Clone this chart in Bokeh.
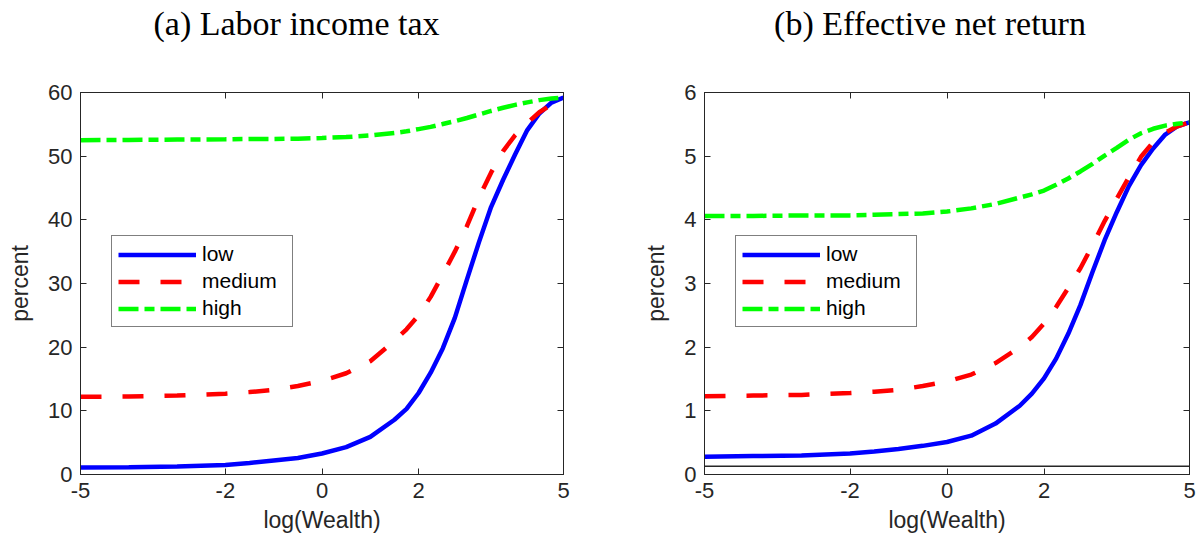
from bokeh.plotting import figure
from bokeh.layouts import row
from bokeh.models import (Range1d, FixedTicker, LinearAxis, Legend, LegendItem,
                          Span)
from bokeh.embed import file_html
from bokeh.resources import INLINE

# log of wealth on the horizontal axis
log_wealth = [-5, -4, -3, -2, -1.5, -1, -0.5, 0, 0.5, 1, 1.5, 1.75, 2, 2.25,
              2.5, 2.75, 3, 3.25, 3.5, 3.75, 4, 4.25, 4.5, 4.75, 5]

# (a) labor income tax, percent
tax_low = [1.1, 1.15, 1.25, 1.5, 1.8, 2.2, 2.6, 3.3, 4.3, 5.9, 8.6, 10.3, 12.8,
           16.0, 19.8, 24.6, 30.6, 36.5, 42.0, 46.3, 50.3, 54.1, 56.7, 58.4, 59.2]
tax_medium = [12.2, 12.25, 12.4, 12.7, 12.95, 13.3, 13.9, 14.7, 15.9, 17.8, 21.0,
              22.8, 25.0, 27.9, 31.4, 35.0, 39.0, 43.5, 47.4, 50.8, 53.3, 55.2,
              56.9, 58.1, 59.2]
tax_high = [52.5, 52.55, 52.6, 52.65, 52.7, 52.7, 52.75, 52.85, 53.0, 53.25,
            53.65, 53.9, 54.25, 54.6, 55.05, 55.5, 56.0, 56.55, 57.1, 57.6,
            58.05, 58.45, 58.8, 59.05, 59.2]

# (b) effective net return, percent
ret_low = [0.28, 0.29, 0.30, 0.33, 0.36, 0.40, 0.45, 0.51, 0.61, 0.80, 1.08,
           1.27, 1.51, 1.82, 2.21, 2.66, 3.18, 3.68, 4.12, 4.53, 4.86, 5.12,
           5.34, 5.47, 5.53]
ret_medium = [1.23, 1.24, 1.25, 1.28, 1.30, 1.33, 1.39, 1.46, 1.57, 1.75, 2.0,
              2.16, 2.37, 2.63, 2.93, 3.24, 3.6, 3.98, 4.33, 4.67, 4.99, 5.22,
              5.37, 5.47, 5.53]
ret_high = [4.06, 4.06, 4.07, 4.07, 4.08, 4.09, 4.10, 4.13, 4.18, 4.25, 4.35,
            4.40, 4.46, 4.55, 4.65, 4.76, 4.88, 5.01, 5.13, 5.26, 5.36, 5.43,
            5.48, 5.51, 5.53]
ret_floor = 0.13

x_ticks = [-5, -2, 0, 2, 5]
tax_ticks = [0, 10, 20, 30, 40, 50, 60]
ret_ticks = [0, 1, 2, 3, 4, 5, 6]
series_names = ["low", "medium", "high"]

AX = "#262626"
SANS = "Liberation Sans"
SERIF = "Liberation Serif"
NBSP = "\u00a0"
H = 539
BORDER_TOP, BORDER_BOTTOM = 92, 65


def style_axis(ax, show_labels=True):
    ax.axis_line_color = AX
    ax.axis_line_width = 1
    ax.major_tick_line_color = AX
    ax.major_tick_in = 6
    ax.major_tick_out = 0
    ax.minor_tick_line_color = None
    ax.major_label_text_font = SANS
    if show_labels:
        ax.major_label_text_color = AX
        ax.major_label_text_font_size = "22px"
        ax.major_label_standoff = 8
    else:
        # mirrored box axis: tick marks only
        ax.major_label_text_color = None
        ax.major_label_text_font_size = "10px"
        ax.major_label_standoff = 0
    ax.axis_label_text_font = SANS
    ax.axis_label_text_font_size = "23px"
    ax.axis_label_text_font_style = "normal"
    ax.axis_label_text_color = AX


def panel(title, ys, y_max, y_ticks, width, b_left, b_right, title_pad,
          floor=None):
    p = figure(width=width, height=H, output_backend="svg",
               toolbar_location=None, x_range=Range1d(-5, 5),
               y_range=Range1d(0, y_max), min_border_left=b_left,
               min_border_right=b_right, min_border_top=BORDER_TOP,
               min_border_bottom=BORDER_BOTTOM)
    p.grid.visible = False
    p.outline_line_color = AX
    p.background_fill_color = "white"
    p.border_fill_color = "white"

    xt = FixedTicker(ticks=x_ticks)
    yt = FixedTicker(ticks=y_ticks)
    p.xaxis.ticker = xt
    p.yaxis.ticker = yt
    p.xaxis.major_label_overrides = {t: str(t) for t in x_ticks}
    p.xaxis.axis_label = "log(Wealth)"
    p.yaxis.axis_label = "percent"
    style_axis(p.xaxis[0])
    style_axis(p.yaxis[0])
    p.xaxis.axis_label_standoff = 6
    p.yaxis.axis_label_standoff = 12

    top = LinearAxis(ticker=xt)
    right = LinearAxis(ticker=yt)
    style_axis(top, False)
    style_axis(right, False)
    p.add_layout(top, "above")
    p.add_layout(right, "right")

    # panel heading, carried by a bare axis so it sits high above the box;
    # trailing no-break spaces nudge it a little to the left
    heading = LinearAxis(ticker=FixedTicker(ticks=[]),
                         axis_line_color=None, major_tick_line_color=None,
                         minor_tick_line_color=None,
                         major_label_text_color=None,
                         major_label_text_font_size="1px",
                         axis_label=title + NBSP * title_pad,
                         axis_label_standoff=51,
                         axis_label_text_font=SERIF,
                         axis_label_text_font_size="34px",
                         axis_label_text_font_style="normal",
                         axis_label_text_color="#000000")
    p.add_layout(heading, "above")

    if floor is not None:
        p.add_layout(Span(location=floor, dimension="width", line_color=AX,
                          line_width=1.5))

    styles = [dict(line_color="#0000FF", line_dash="solid"),
              dict(line_color="#FF0000", line_dash="21 21"),
              dict(line_color="#00FF00", line_dash="20 6 10 6")]
    items = []
    for name, y, st in zip(series_names, ys, styles):
        r = p.line(log_wealth, y, line_width=4.5, **st)
        items.append(LegendItem(label=name, renderers=[r]))

    legend = Legend(items=items, location=(31, 147), margin=0, padding=6,
                    spacing=3, glyph_width=78, glyph_height=23,
                    label_height=23, label_width=84, label_standoff=6,
                    label_text_font=SANS, label_text_font_size="21px",
                    label_text_color="#000000", border_line_color="#000000",
                    border_line_width=1, background_fill_color="white",
                    background_fill_alpha=1)
    p.add_layout(legend, "center")
    return p


p1 = panel("(a) Labor income tax", [tax_low, tax_medium, tax_high], 60,
           tax_ticks, 600, 80, 37, 6)
p2 = panel("(b) Effective net return", [ret_low, ret_medium, ret_high], 6,
           ret_ticks, 599, 104, 10, 4, floor=ret_floor)

layout = row(p1, p2)
open("out.html", "w").write(file_html(layout, INLINE))
